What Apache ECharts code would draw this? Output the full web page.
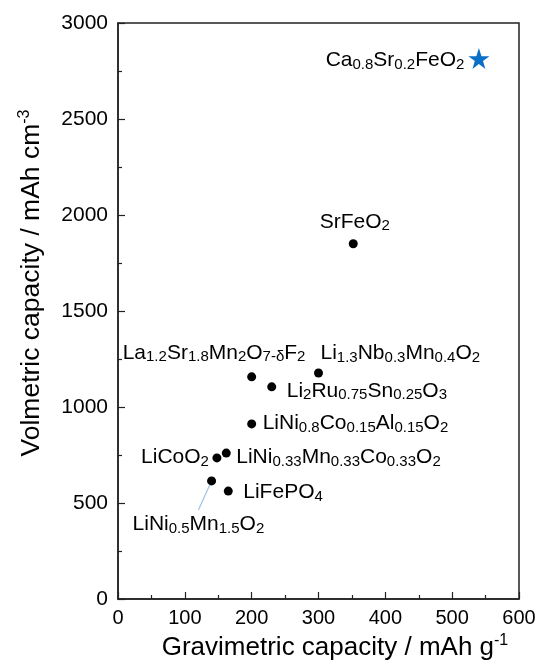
<!DOCTYPE html>
<html>
<head>
<meta charset="utf-8">
<script src="https://cdn.jsdelivr.net/npm/echarts@6/dist/echarts.min.js"></script>
<style>
  html, body { margin: 0; padding: 0; background: #fff; }
  #main { width: 539px; height: 666px; }
</style>
</head>
<body>
<div id="main"></div>
<script>
var myChart = echarts.init(document.getElementById('main'));

// cathode materials (black dots), labels use rich text for subscripts
var materials = [
    '{m|SrFeO}{s|2}',
    '{m|La}{s|1.2}{m|Sr}{s|1.8}{m|Mn}{s|2}{m|O}{s|7-δ}{m|F}{s|2}',
    '{m|Li}{s|1.3}{m|Nb}{s|0.3}{m|Mn}{s|0.4}{m|O}{s|2}',
    '{m|Li}{s|2}{m|Ru}{s|0.75}{m|Sn}{s|0.25}{m|O}{s|3}',
    '{m|LiNi}{s|0.8}{m|Co}{s|0.15}{m|Al}{s|0.15}{m|O}{s|2}',
    '{m|LiCoO}{s|2}',
    '{m|LiNi}{s|0.33}{m|Mn}{s|0.33}{m|Co}{s|0.33}{m|O}{s|2}',
    '{m|LiFePO}{s|4}',
    '{m|LiNi}{s|0.5}{m|Mn}{s|1.5}{m|O}{s|2}'
];
var gravimetric = [352, 200, 300, 230, 200, 148, 162, 165, 140];
var volumetric = [1850, 1157, 1177, 1105, 912, 735, 760, 562, 615];

// this work (blue star)
var starName = ['{m|Ca}{s|0.8}{m|Sr}{s|0.2}{m|FeO}{s|2}'];
var starGrav = [540];
var starVol = [2815];

var xTicks = [0, 100, 200, 300, 400, 500, 600];
var yTicks = [0, 500, 1000, 1500, 2000, 2500, 3000];

// label placement: [dx, dy] from symbol box corner, align
var labelPos = [
    [[6, -17.5], 'center'],
    [[-124.5, -19.5], 'left'],
    [[6.5, -15.5], 'left'],
    [[19.5, 8.5], 'left'],
    [[15.5, 3.5], 'left'],
    [[-3.5, 3.5], 'right'],
    [[14.5, 8.5], 'left'],
    [[19.5, 5.5], 'left'],
    [[-74.5, 47.5], 'left']
];
var leaderIndex = 8;

var font = 'Liberation Sans';

var rich = {
    m: { fontSize: 21, lineHeight: 24, color: '#000', fontFamily: font, verticalAlign: 'middle' },
    s: { fontSize: 15, lineHeight: 15, color: '#000', fontFamily: font, verticalAlign: 'bottom', padding: [11, 0, 0, 0] }
};

var dots = materials.map(function (n, i) {
    var item = {
        name: n,
        value: [gravimetric[i], volumetric[i]],
        label: { position: labelPos[i][0], align: labelPos[i][1], verticalAlign: 'middle' }
    };
    if (i === leaderIndex) {
        item.labelLine = { show: true, lineStyle: { color: '#9cc3e8', width: 1.2 } };
    }
    return item;
});

var star = starName.map(function (n, i) {
    return {
        name: n,
        value: [starGrav[i], starVol[i]],
        label: { position: [-4, 12], align: 'right', verticalAlign: 'middle' }
    };
});

var option = {
    animation: false,
    grid: {
        left: 118,
        right: 20,
        top: 23,
        bottom: 67,
        show: true,
        borderColor: '#222',
        borderWidth: 1.5
    },
    xAxis: {
        type: 'value',
        min: xTicks[0],
        max: xTicks[xTicks.length - 1],
        interval: 100,
        name: 'Gravimetric capacity / mAh g{sup|-1}',
        nameLocation: 'middle',
        nameGap: 29,
        nameTextStyle: {
            fontSize: 26,
            color: '#000',
            fontFamily: font,
            padding: [0, 0, 0, 33],
            rich: {
                sup: { fontSize: 16, color: '#000', fontFamily: font, padding: [0, 0, 13, 0] }
            }
        },
        axisLine: { lineStyle: { color: '#222', width: 1.5 } },
        axisTick: { inside: true, length: 7, lineStyle: { color: '#222', width: 1.2 } },
        minorTick: { show: true, splitNumber: 2, length: 4, lineStyle: { color: '#222', width: 1.2 } },
        splitLine: { show: false },
        axisLabel: { fontSize: 20, color: '#000', fontFamily: font, margin: 9 }
    },
    yAxis: {
        type: 'value',
        min: yTicks[0],
        max: yTicks[yTicks.length - 1],
        interval: 500,
        name: 'Volmetric capacity / mAh cm{sup|-3}',
        nameLocation: 'middle',
        nameGap: 72,
        nameTextStyle: {
            fontSize: 26.5,
            color: '#000',
            fontFamily: font,
            padding: [0, 0, 0, 56],
            rich: {
                sup: { fontSize: 16, color: '#000', fontFamily: font, padding: [0, 0, 13, 0] }
            }
        },
        axisLine: { lineStyle: { color: '#222', width: 1.5 } },
        axisTick: { inside: true, length: 7, lineStyle: { color: '#222', width: 1.2 } },
        minorTick: { show: true, splitNumber: 2, length: 4, lineStyle: { color: '#222', width: 1.2 } },
        splitLine: { show: false },
        axisLabel: {
            fontSize: 21, color: '#000', fontFamily: font, margin: 10,
            formatter: function (v) { return String(v); }
        }
    },
    series: [
        {
            name: 'materials',
            type: 'scatter',
            symbol: 'circle',
            symbolSize: 9,
            itemStyle: { color: '#000', opacity: 1 },
            label: {
                show: true,
                formatter: function (p) { return p.name; },
                rich: rich
            },
            data: dots
        },
        {
            name: 'this work',
            type: 'scatter',
            symbol: 'path://M50,0 L61.8,35.1 L98.1,35.1 L68.8,56.7 L79.4,90.9 L50,69.1 L20.6,90.9 L31.2,56.7 L1.9,35.1 L38.2,35.1 Z',
            symbolSize: 21,
            itemStyle: { color: '#0a6fc6', opacity: 1 },
            label: {
                show: true,
                formatter: function (p) { return p.name; },
                rich: rich
            },
            data: star
        }
    ]
};

myChart.setOption(option);
</script>
</body>
</html>
